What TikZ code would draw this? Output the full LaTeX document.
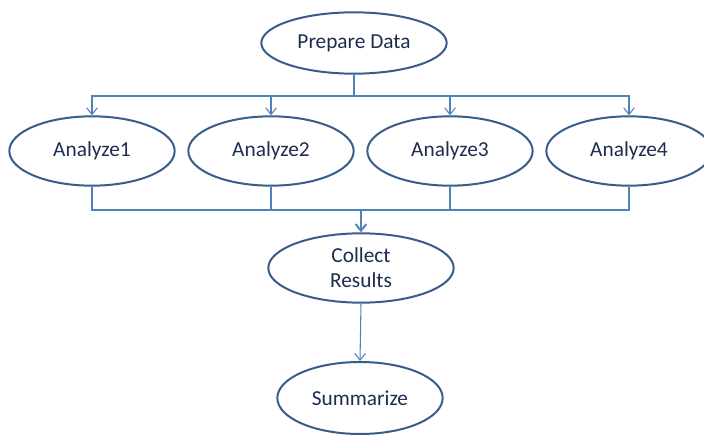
\documentclass[tikz,border=0pt]{standalone}
\usepackage{fontspec}
\setmainfont{Carlito}
\usepackage{tikz}
\usetikzlibrary{arrows.meta, shapes.geometric}

\definecolor{wire}{RGB}{79,129,189}
\definecolor{rim}{RGB}{56,93,138}
\definecolor{ink}{RGB}{28,45,80}

\tikzset{
    task/.style={ellipse, draw=rim, line width=1.5pt, fill=white, text=ink,
        font=\fontsize{16}{19}\selectfont, align=center, inner sep=0pt,
        minimum width=124pt, minimum height=52pt},
    wide/.style={task, minimum width=139pt},
    link/.style={draw=wire, line width=0.8pt},
    tip/.style={-{Straight Barb[length=5pt, width=8pt]}}
}

\begin{document}
\begin{tikzpicture}[x=0.75pt, y=-0.75pt]
    \clip (0,0) rectangle (704,435);
    \path[use as bounding box] (0,0) rectangle (704,435);

    \node[wide, minimum height=46pt] (prep) at (354, 43) {Prepare Data};

    \node[task] (an1) at (92, 151) {Analyze1};
    \node[task] (an2) at (271, 151) {Analyze2};
    \node[task] (an3) at (450, 151) {Analyze3};
    \node[task] (an4) at (629, 151) {Analyze4};

    \node[wide] (coll) at (361, 268) {Collect\\Results};
    \node[task, minimum height=54pt] (summ) at (360, 398) {Summarize};

    % fan out
    \coordinate (tbus) at (354, 96);
    \draw[link, line width=1.5pt] (prep) -- (tbus);
    \draw[link, tip] (tbus) -| (an1.north);
    \draw[link, tip] (tbus) -| (an2.north);
    \draw[link, tip] (tbus) -| (an3.north);
    \draw[link, tip] (tbus) -| (an4.north);

    % gather
    \coordinate (bbus) at (361, 210);
    \draw[link] (an1.south) |- (bbus);
    \draw[link] (an2.south) |- (bbus);
    \draw[link] (an3.south) |- (bbus);
    \draw[link] (an4.south) |- (bbus);
    \draw[link, tip, line width=1.5pt] (bbus) -- (coll.north);

    \draw[link, tip] (coll.south) -- (summ.north);
\end{tikzpicture}
\end{document}
